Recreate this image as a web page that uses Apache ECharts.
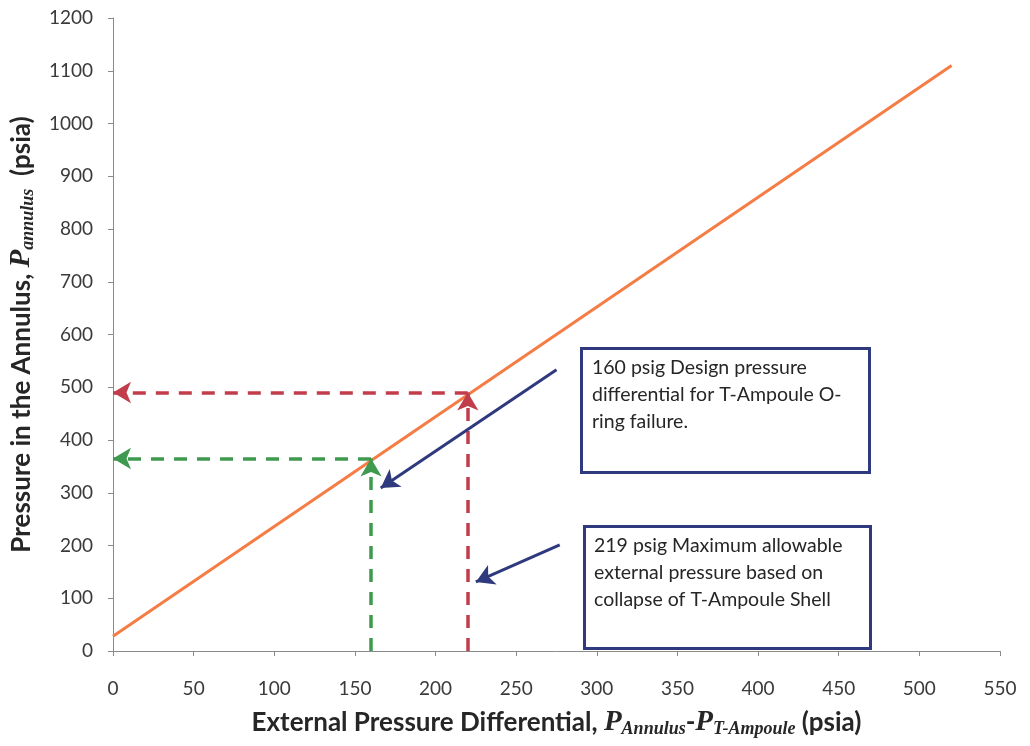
<!DOCTYPE html>
<html>
<head>
<meta charset="utf-8">
<script src="https://cdn.jsdelivr.net/npm/echarts@6/dist/echarts.min.js"></script>
<style>
  html, body { margin: 0; padding: 0; background: #fff; }
  #chart { width: 1030px; height: 746px; }
</style>
</head>
<body>
<div id="chart"></div>
<script>
// orange curve: annulus pressure vs external differential
const curveX = [0, 520];
const curveY = [28, 1110];

// design point (green) and max allowable point (red)
const designPoint = [160, 365];
const maxPoint = [220, 490];

// blue callout arrows: [from, to]
const calloutArrows = [
  [[275, 533], [166, 309]],
  [[277, 201], [225, 131]]
];

const xTicks = { min: 0, max: 550, interval: 50 };
const yTicks = { min: 0, max: 1200, interval: 100 };

const notes = [
  '160 psig Design pressure\ndifferential for T-Ampoule O-\nring failure.',
  '219 psig Maximum allowable\nexternal pressure based on\ncollapse of T-Ampoule Shell'
];

const chart = echarts.init(document.getElementById('chart'));

function dashedPair(pt, color) {
  const style = { color: color, type: [13, 10], width: 3.5 };
  return [
    [{ coord: [pt[0], 0], symbol: 'none', lineStyle: style },
     { coord: [pt[0], pt[1]], symbol: 'arrow', symbolSize: [16, 18] }],
    [{ coord: [pt[0], pt[1]], symbol: 'none', lineStyle: style },
     { coord: [0, pt[1]], symbol: 'arrow', symbolSize: [16, 18] }]
  ];
}

const arrowLines = calloutArrows.map(a => [
  { coord: a[0], symbol: 'none', lineStyle: { color: '#2f3a7e', type: 'solid', width: 3 } },
  { coord: a[1], symbol: 'arrow', symbolSize: [16, 18] }
]);

const nameRich = {
  b: { fontSize: 26, fontWeight: 'bold', color: '#262626', fontFamily: 'Lato' },
  p: { fontSize: 29, fontWeight: 'bold', fontStyle: 'italic', color: '#262626', fontFamily: 'Liberation Serif' },
  s: { fontSize: 18, fontWeight: 'bold', fontStyle: 'italic', color: '#262626', fontFamily: 'Liberation Serif', verticalAlign: 'bottom', padding: [13, 0, 0, 0] }
};

const option = {
  animation: false,
  backgroundColor: '#ffffff',
  grid: { left: 113, right: 30, top: 18, bottom: 95, outerBoundsMode: 'none', containLabel: false },
  xAxis: {
    type: 'value',
    min: xTicks.min, max: xTicks.max, interval: xTicks.interval,
    axisLine: { lineStyle: { color: '#8a8a8a', width: 1 } },
    axisTick: { show: true, length: 5, lineStyle: { color: '#8a8a8a' } },
    splitLine: { show: false },
    axisLabel: { margin: 28, fontSize: 19, color: '#3a3a3a', fontFamily: 'Lato' },
    name: '{b|External Pressure Differential, }{p|P}{s|Annulus}{b|-}{p|P}{s|T-Ampoule}{b| (psia)}',
    nameLocation: 'middle',
    nameGap: 56,
    nameTextStyle: { rich: nameRich }
  },
  yAxis: {
    type: 'value',
    min: yTicks.min, max: yTicks.max, interval: yTicks.interval,
    axisLine: { show: true, lineStyle: { color: '#8a8a8a', width: 1 } },
    axisTick: { show: true, length: 5, lineStyle: { color: '#8a8a8a' } },
    splitLine: { show: false },
    axisLabel: { margin: 20, fontSize: 19, color: '#3a3a3a', fontFamily: 'Lato', formatter: v => String(v) },
    name: '{b|Pressure in the Annulus, }{p|P}{s|annulus}{b|  (psia)}',
    nameLocation: 'middle',
    nameGap: 76,
    nameRotate: 90,
    nameTextStyle: { rich: nameRich }
  },
  series: [
    {
      type: 'line',
      data: curveX.map((x, i) => [x, curveY[i]]),
      symbol: 'none',
      lineStyle: { color: '#f57d45', width: 3 },
      z: 3
    },
    {
      type: 'line',
      data: [],
      markLine: {
        silent: true,
        animation: false,
        label: { show: false },
        emphasis: { disabled: true },
        data: [
          ...dashedPair(designPoint, '#3f9a4f'),
          ...dashedPair(maxPoint, '#c23d4c'),
          ...arrowLines
        ]
      },
      z: 4
    }
  ],
  graphic: [
    {
      type: 'rect', left: 580, top: 347,
      shape: { width: 288, height: 124 },
      style: { fill: '#fff', stroke: '#2f3a7e', lineWidth: 3 }
    },
    {
      type: 'text', left: 592, top: 354,
      style: { text: notes[0], font: '19.5px Lato', fill: '#262626', lineHeight: 27 }
    },
    {
      type: 'rect', left: 583, top: 525,
      shape: { width: 286, height: 122 },
      style: { fill: '#fff', stroke: '#2f3a7e', lineWidth: 3 }
    },
    {
      type: 'text', left: 594, top: 532,
      style: { text: notes[1], font: '19.5px Lato', fill: '#262626', lineHeight: 27 }
    }
  ]
};

chart.setOption(option);
</script>
</body>
</html>
